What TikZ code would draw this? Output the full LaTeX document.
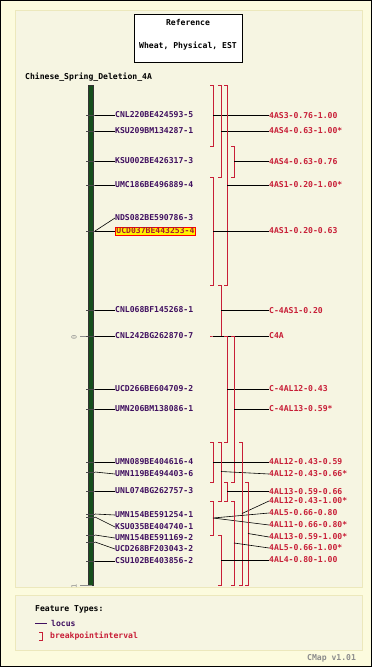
\documentclass[tikz,border=0pt]{standalone}
\usepackage{fontspec}
\newfontfamily\cmapfont{DejaVu Sans Mono}
\definecolor{outerbg}{RGB}{252,251,222}
\definecolor{panelbg}{RGB}{246,245,226}
\definecolor{panelline}{RGB}{236,232,188}
\definecolor{locuscol}{RGB}{64,16,96}
\definecolor{bpicol}{RGB}{200,30,55}
\definecolor{chromcol}{RGB}{22,78,28}
\begin{document}
\begin{tikzpicture}
        [x=1pt,y=-1pt,
        every node/.style={font=\cmapfont\bfseries\fontsize{8.1}{10}\selectfont,inner sep=0pt},
        panel/.style={fill=panelbg,draw=panelline,line width=1pt},
        locus/.style={text=locuscol,anchor=west},
        hilite/.style={text=bpicol!85!black,fill=yellow,draw=red,line width=0.8pt,inner sep=1pt,anchor=west},
        bpi/.style={text=bpicol,anchor=west},
        bracket/.style={draw=bpicol,line width=1pt},
        link/.style={draw=black,line width=0.6pt},
        tick/.style={draw=black!70,line width=0.6pt},
        scaleline/.style={draw=black!45,line width=0.6pt},
        scalelab/.style={text=black!45,rotate=90,font=\cmapfont\fontsize{7}{8}\selectfont}]
    \useasboundingbox (0,0) rectangle (372,667);
    \fill[outerbg] (0,0) rectangle (372,667);
    \draw[black,line width=1pt] (0.5,0.5) rectangle (371.5,666.5);
    \draw[panel] (15,10) rectangle (362,587);
    \draw[panel] (15,595) rectangle (362,650);

    \node[draw=black,fill=white,line width=0.8pt,minimum width=108pt,minimum height=48pt] (refbox) at (188,38) {};
    \node (reftitle) at (188,22) {Reference};
    \node (refsrc) at (188,46) {Wheat, Physical, EST};
    \node[anchor=west] (mapname) at (25,77) {Chinese\_Spring\_Deletion\_4A};

    \filldraw[fill=chromcol,draw=black!80,line width=0.5pt] (88,85) rectangle (93,585);
    \coordinate (zero) at (88,336);
    \coordinate (one) at (92,585);
    \draw[scaleline] (80,336) -- (zero);
    \draw[scaleline] (80,585) -- (one);
    \node[scalelab] (zerolab) at (74,337) {0};
    \node[scalelab] (onelab) at (74,586) {1};

    \foreach \n/\ty/\ly/\s/\txt in {
            l1/115/115/locus/CNL220BE424593-5,
            l2/131/131/locus/KSU209BM134287-1,
            l3/161/161/locus/KSU002BE426317-3,
            l4/185/185/locus/UMC186BE496889-4,
            l5/231/218/locus/NDS082BE590786-3,
            l6/231/231/hilite/UCD037BE443253-4,
            l7/310/310/locus/CNL068BF145268-1,
            l8/336/336/locus/CNL242BG262870-7,
            l9/389/389/locus/UCD266BE604709-2,
            l10/409/409/locus/UMN206BM138086-1,
            l11/462/462/locus/UMN089BE404616-4,
            l12/472/474/locus/UMN119BE494403-6,
            l13/491/491/locus/UNL074BG262757-3,
            l14/514/515/locus/UMN154BE591254-1,
            l15/517/527/locus/KSU035BE404740-1,
            l16/535/538/locus/UMN154BE591169-2,
            l17/542/549/locus/UCD268BF203043-2,
            l18/561/561/locus/CSU102BE403856-2}
    {
        \coordinate (\n t) at (95,\ty);
        \draw[tick] (86,\ty) -- (\n t);
        \node[\s] (\n) at (115,\ly) {\txt};
        \draw[link] (\n t) -- (\n.west);
    }

    \foreach \n/\bx/\tp/\bt/\ly/\txt in {
            b1/213/85/146/115.5/4AS3-0.76-1.00,
            b2/221/85/177/131/4AS4-0.63-1.00*,
            b3/234/146/177/161.5/4AS4-0.63-0.76,
            b4/227/85/285/185/4AS1-0.20-1.00*,
            b5/213/177/285/231/4AS1-0.20-0.63,
            b6/221/285/336/310.5/C-4AS1-0.20,
            b7/213/336/336/336/C4A,
            b8/227/336/442/389/C-4AL12-0.43,
            b9/234/336/482/409/C-4AL13-0.59*,
            b10/213/442/482/462/4AL12-0.43-0.59,
            b11/221/442/501/474/4AL12-0.43-0.66*,
            b12/227/482/501/491.5/4AL13-0.59-0.66,
            b13/242/442/585/501/4AL12-0.43-1.00*,
            b14/213/501/535/513/4AL5-0.66-0.80,
            b15/213/501/535/525/4AL11-0.66-0.80*,
            b16/248/482/585/537/4AL13-0.59-1.00*,
            b17/234/501/585/548/4AL5-0.66-1.00*,
            b18/221/535/585/560/4AL4-0.80-1.00}
    {
        \draw[bracket] (\bx-3,\tp) -- (\bx,\tp) -- (\bx,\bt) -- (\bx-3,\bt);
        \coordinate (\n) at (\bx,{(\tp+\bt)/2});
        \node[bpi] (\n l) at (269,\ly) {\txt};
        \draw[link] (\n) -- (\n l.west);
    }

    \node[anchor=west] (ftitle) at (35,609) {Feature Types:};
    \coordinate (lgA) at (35,623);
    \coordinate (lgB) at (47,623);
    \draw[locuscol,line width=0.8pt] (lgA) -- (lgB);
    \node[locus] (lglocus) at (51,623) {locus};
    \draw[bracket] (39,632) -- (42,632) -- (42,640) -- (39,640);
    \node[bpi] (lgbpi) at (50,636) {breakpointinterval};
    \node[anchor=west,text=black!45] (version) at (307,658) {CMap v1.01};
\end{tikzpicture}
\end{document}
